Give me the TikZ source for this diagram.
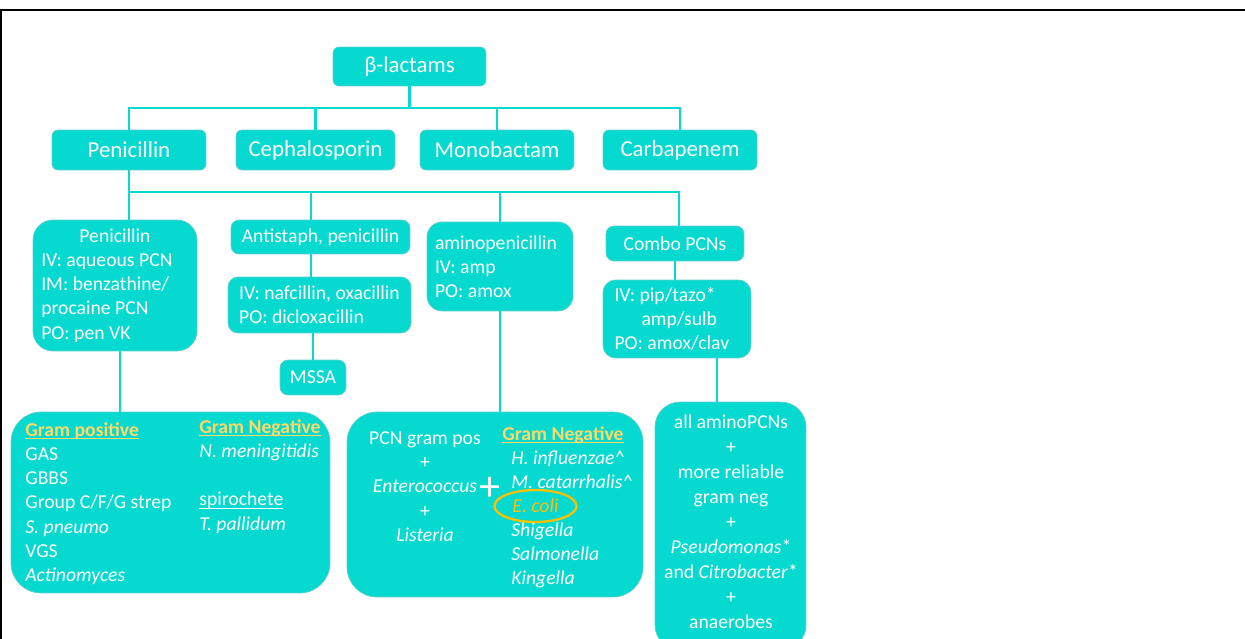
\documentclass[tikz,border=0pt]{standalone}
\usepackage{fontspec}
\setmainfont{Carlito}
\usetikzlibrary{shapes.geometric}
\definecolor{aqua}{HTML}{06D9D0}
\definecolor{aquaedge}{HTML}{5ACFCA}
\definecolor{gramgold}{HTML}{FFD966}
\definecolor{amber}{HTML}{FFC000}
\newcommand\gramline[1]{\begingroup\setbox0\hbox{#1}\rlap{\rule[-1.6pt]{\wd0}{0.6pt}}\box0\endgroup}
\newcommand\gramhead[1]{\textcolor{gramgold}{\gramline{\textbf{#1}}}}
\tikzset{
  family/.style={fill=aqua, draw=aquaedge, rounded corners=0.12cm, text=white,
    font=\fontsize{13}{15}\selectfont, minimum width=3.08cm, minimum height=0.8cm},
  drug/.style={fill=aqua, draw=aquaedge, rounded corners=0.16cm, text=white,
    font=\fontsize{11.2}{13.8}\selectfont\frenchspacing, inner sep=0pt},
  spectrum/.style={fill=aqua, draw=aquaedge, rounded corners=0.6cm, inner sep=0pt},
  txt/.style={text=white, font=\fontsize{11.2}{13.8}\selectfont\frenchspacing, inner sep=0pt},
  link/.style={draw=aqua, line width=1.6pt},
}
\begin{document}
\begin{tikzpicture}[x=0.02cm,y=-0.02cm]
  \useasboundingbox (0,0) rectangle (1245,639);
  \clip (0,0) rectangle (1245,639);
  % frame
  \draw[line width=1.2pt] (0,10) -- (1245,10);
  \draw[line width=1.2pt] (1,10) -- (1,639);
  % classes
  \node[family, minimum width=3.06cm, minimum height=0.78cm] (blac) at (409.5,66.5) {β-lactams};
  \node[family] (pen) at (129,150) {Penicillin};
  \node[family, minimum width=3.18cm] (ceph) at (315.5,150) {Cephalosporin};
  \node[family] (mono) at (497,150) {Monobactam};
  \node[family] (carb) at (680,150) {Carbapenem};
  % penicillins
  \node[drug, minimum width=3.28cm, minimum height=2.62cm, rounded corners=0.4cm,
    align=flush left, text width=2.95cm] (pcn) at (115,285.5)
    {\makebox[\linewidth]{Penicillin}\\IV: aqueous PCN\\IM: benzathine/\\procaine PCN\\PO: pen VK};
  \node[drug, minimum width=3.58cm, minimum height=0.68cm] (anti) at (320.5,237) {Antistaph, penicillin};
  \node[drug, minimum width=3.66cm, minimum height=1.12cm, rounded corners=0.2cm, align=left]
    (nafc) at (319.5,305) {IV: nafcillin, oxacillin\\PO: dicloxacillin};
  \node[drug, minimum width=1.32cm, minimum height=0.7cm] (mssa) at (313,377.5) {MSSA};
  \node[drug, minimum width=2.92cm, minimum height=1.78cm, rounded corners=0.3cm,
    align=flush left, text width=2.6cm] (amino) at (500,266.5) {aminopenicillin\\IV: amp\\PO: amox};
  \node[drug, minimum width=2.76cm, minimum height=0.7cm] (combo) at (675,243.5) {Combo PCNs};
  \node[drug, minimum width=2.96cm, minimum height=1.56cm, rounded corners=0.25cm,
    align=flush left, text width=2.5cm] (pip) at (677,319)
    {IV: pip/tazo*\\\hspace*{0.54cm}amp/sulb\\PO: amox/clav};
  % spectrum
  \node[spectrum, minimum width=6.38cm, minimum height=3.62cm] (gpos) at (170.5,502.5) {};
  \node[spectrum, minimum width=5.92cm, minimum height=3.7cm] (gamp) at (495,504.5) {};
  \node[spectrum, minimum width=3.02cm, minimum height=4.96cm, rounded corners=0.5cm] (gext) at (730.5,526) {};
  \node[txt, anchor=north west, align=left] (gposlist) at (25,422)
    {\gramhead{Gram positive}\\GAS\\GBBS\\Group C/F/G strep\\\textit{S. pneumo}\\VGS\\\textit{Actinomyces}};
  \node[txt, anchor=north west, align=left] (gposneg) at (199,419)
    {\gramhead{Gram Negative}\\\textit{N. meningitidis}\\[13.8pt]\gramline{spirochete}\\\textit{T. pallidum}};
  \node[txt, align=center] (amppos) at (425,486.5)
    {PCN gram pos\\+\\\textit{Enterococcus}\\+\\\textit{Listeria}};
  \node[text=white, font=\fontsize{24}{24}\selectfont, inner sep=0pt] (plus) at (490,489) {+};
  \node[txt, anchor=north west, align=left] (ampneg) at (502,426)
    {\gramhead{Gram Negative}\\\hspace*{0.18cm}\textit{H. influenzae\textasciicircum}\\\hspace*{0.18cm}\textit{M. catarrhalis\textasciicircum}};
  \node[ellipse, draw=amber, line width=1.3pt, minimum width=1.64cm, minimum height=0.64cm,
    inner sep=0pt, text=amber, font=\fontsize{11.2}{13.8}\selectfont\frenchspacing] (ecoli) at (535.5,506) {\textit{E. coli}};
  \node[txt, anchor=north west, align=left] (ampmore) at (511,522)
    {\textit{Shigella}\\\textit{Salmonella}\\\textit{Kingella}};
  \node[txt, align=center, font=\fontsize{11.2}{14.2}\selectfont] (extlist) at (731,521.5)
    {all aminoPCNs\\+\\more reliable\\gram neg\\+\\\textit{Pseudomonas}*\\and \textit{Citrobacter}*\\+\\anaerobes};
  % links
  \coordinate (bus1) at (409.5,108);
  \coordinate (bus2) at (129,192);
  \draw[link] (blac) -- (bus1);
  \draw[link] (bus1) -| (pen);
  \draw[link] (bus1) -| (ceph);
  \draw[link] (bus1) -| (mono);
  \draw[link] (bus1) -| (carb);
  \draw[link] (pen) -- (bus2);
  \draw[link] (bus2) -- (bus2 |- pcn.north);
  \draw[link] (bus2) -| ([xshift=-0.19cm]anti.north);
  \draw[link] (bus2) -| (amino);
  \draw[link] (bus2) -| ([xshift=0.08cm]combo.north);
  \draw[link] ([xshift=-0.19cm]anti.south) -- ([xshift=-0.19cm]anti.south |- nafc.north);
  \draw[link] (nafc.south -| mssa) -- (mssa);
  \draw[link] (combo) -- (combo |- pip.north);
  \draw[link] ([xshift=0.1cm]pcn.south) -- ([xshift=0.1cm]pcn.south |- gpos.north);
  \draw[link] (amino) -- (amino |- gamp.north);
  \draw[link] ([xshift=0.8cm]pip.south) -- ([xshift=0.8cm]pip.south |- gext.north);
\end{tikzpicture}
\end{document}
